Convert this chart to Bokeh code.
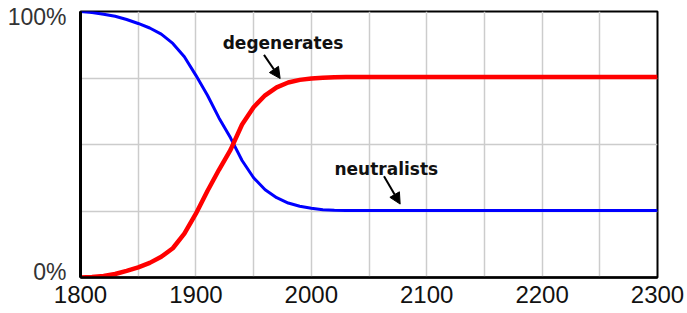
from bokeh.plotting import figure
from bokeh.models import Range1d, FixedTicker, Label, Arrow, NormalHead
from bokeh.embed import file_html
from bokeh.resources import INLINE

# ---- data ----
years = [1800, 1810, 1820, 1830, 1840, 1850, 1860, 1870, 1880, 1890,
         1900, 1910, 1920, 1930, 1940, 1950, 1960, 1970, 1980, 1990,
         2000, 2010, 2020, 2030, 2300]
neutralists = [100, 99.6, 99.0, 98.2, 97.0, 95.5, 93.8, 91.5, 88.0, 83.0,
               76.0, 68.5, 60.0, 52.5, 44.0, 37.5, 33.0, 30.0, 28.0, 26.8,
               26.0, 25.5, 25.3, 25.2, 25.2]
degenerates = [0, 0.2, 0.6, 1.3, 2.5, 3.8, 5.5, 7.8, 11.0, 16.5,
               24.0, 32.5, 40.5, 48.0, 57.5, 64.0, 68.5, 71.5, 73.3, 74.3,
               74.8, 75.1, 75.3, 75.4, 75.4]

x_ticks = [1800, 1900, 2000, 2100, 2200, 2300]
x_grid = [1800, 1850, 1900, 1950, 2000, 2050, 2100, 2150, 2200, 2250, 2300]
y_grid = [0, 25, 50, 75, 100]
y_tick_values = [0, 100]
y_tick_labels = {0: "0%", 100: "100%"}

series_names = ["degenerates", "neutralists"]
label_x = [1975.5, 2065]
label_y = [88.3, 40.9]
arrow_tail_x = [1959, 2063]
arrow_tail_y = [83.7, 38.1]
arrow_head_x = [1973, 2077]
arrow_head_y = [74.8, 27.6]

# ---- figure ----
p = figure(width=687, height=313, output_backend="svg", toolbar_location=None,
           x_range=Range1d(1800, 2300), y_range=Range1d(0, 100),
           min_border_left=80, min_border_right=30, min_border_top=11,
           min_border_bottom=36)
p.background_fill_color = "white"
p.border_fill_color = "white"
p.outline_line_color = "black"
p.outline_line_width = 2

# range used only to set the y tick labels slightly inside the frame ends
p.extra_y_ranges = {"labels": Range1d(-2.3, 102.3)}

p.xgrid.ticker = FixedTicker(ticks=x_grid)
p.ygrid.ticker = FixedTicker(ticks=y_grid)
for g in (p.xgrid, p.ygrid):
    g.grid_line_color = "#cccccc"
    g.grid_line_width = 1.5

p.xaxis.ticker = FixedTicker(ticks=x_ticks)
p.xaxis.major_tick_out = 0
p.xaxis.major_tick_in = 0
p.xaxis.minor_tick_out = 0
p.xaxis.minor_tick_in = 0
p.xaxis.axis_line_color = "black"
p.xaxis.axis_line_width = 2.5
p.xaxis.major_label_standoff = 8
p.xaxis.major_label_text_font = "Liberation Sans"
p.xaxis.major_label_text_font_size = "24px"
p.xaxis.major_label_text_color = "#111111"

yax = p.yaxis[0]
yax.y_range_name = "labels"
yax.ticker = FixedTicker(ticks=y_tick_values)
yax.major_label_overrides = y_tick_labels
yax.major_tick_out = 0
yax.major_tick_in = 0
yax.minor_tick_out = 0
yax.minor_tick_in = 0
yax.axis_line_color = "black"
yax.axis_line_width = 3
yax.major_label_standoff = 14
yax.major_label_text_font = "Liberation Sans"
yax.major_label_text_font_size = "23px"
yax.major_label_text_color = "#333333"

p.line(years, neutralists, line_color="#0000ff", line_width=3)
p.line(years, degenerates, line_color="#ff0000", line_width=4.5)

for name, lx, ly, tx, ty, hx, hy in zip(series_names, label_x, label_y,
                                         arrow_tail_x, arrow_tail_y,
                                         arrow_head_x, arrow_head_y):
    p.add_layout(Label(x=lx, y=ly, text=name, text_align="center",
                       text_baseline="alphabetic", text_font="DejaVu Sans",
                       text_font_style="bold", text_font_size="17px",
                       text_color="#111111"))
    p.add_layout(Arrow(x_start=tx, y_start=ty, x_end=hx, y_end=hy,
                       line_color="black", line_width=2,
                       end=NormalHead(size=11, fill_color="black",
                                      line_color="black", line_width=1)))

open("out.html", "w").write(file_html(p, INLINE))
